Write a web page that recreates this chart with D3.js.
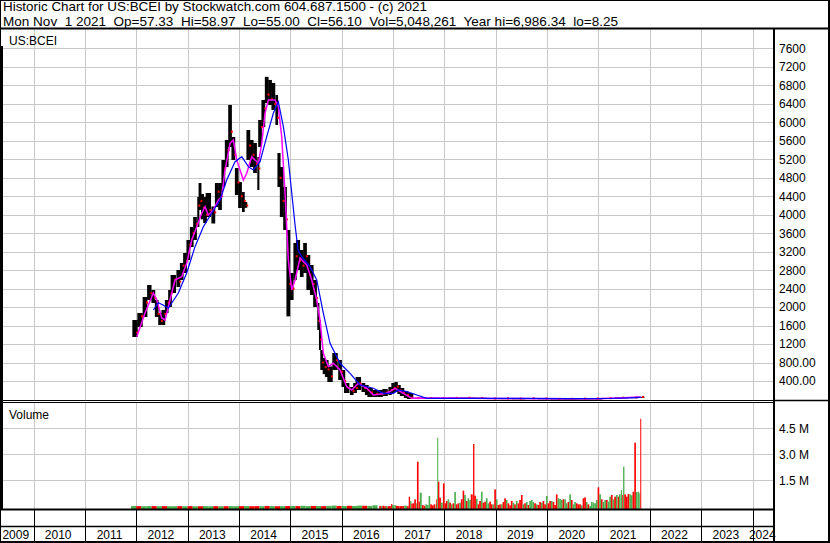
<!DOCTYPE html>
<html>
<head>
<meta charset="utf-8">
<script src="https://cdn.jsdelivr.net/npm/d3@7"></script>
<style>
  body { margin: 0; background: #fff; }
  svg { display: block; font-family: "Liberation Sans", Arial, sans-serif; }
</style>
</head>
<body>
<div id="chart"></div>
<script>
// ---- data ----
// price bars: decimal year, high, low, close
var priceYears = [2011.977, 2012.074, 2012.171, 2012.255, 2012.333, 2012.399, 2012.464, 2012.528, 2012.594, 2012.658,
  2012.722, 2012.820, 2012.886, 2012.950, 2013.015, 2013.081, 2013.145, 2013.209, 2013.242, 2013.290, 2013.340, 2013.404,
  2013.501, 2013.568, 2013.632, 2013.696, 2013.762, 2013.827, 2013.891, 2013.957, 2014.021, 2014.086, 2014.132,
  2014.183, 2014.249, 2014.313, 2014.378, 2014.411, 2014.475, 2014.541, 2014.606, 2014.670, 2014.736, 2014.780,
  2014.833, 2014.898, 2014.962, 2015.028, 2015.093, 2015.150, 2015.223, 2015.287, 2015.351, 2015.418, 2015.482,
  2015.546, 2015.579, 2015.612, 2015.660, 2015.710, 2015.774, 2015.871, 2015.969, 2016.033, 2016.099, 2016.197, 2016.261,
  2016.325, 2016.423, 2016.489, 2016.553, 2016.650, 2016.748, 2016.845, 2016.943, 2017.001, 2017.060, 2017.118,
  2017.176, 2017.254, 2017.332,
  2017.45, 2017.70, 2017.95, 2018.20, 2018.45, 2018.70, 2018.95, 2019.20, 2019.45, 2019.70, 2019.95,
  2020.20, 2020.45, 2020.70, 2020.95, 2021.20, 2021.45, 2021.70, 2021.83];
var priceHigh = [1721, 1873, 2219, 2479, 2371, 2154, 1873, 1938, 2154, 2371,
  2696, 2804, 2956, 3172, 3454, 3735, 3951, 4384, 4687, 4450, 4384, 4471,
  4179, 4687, 4687, 5186, 5619, 6377, 5684, 5012, 4709, 4492, 4276,
  5835, 5619, 5554, 5251, 6052, 6485, 6986, 6918, 6853, 6593, 5337,
  5034, 4601, 3670, 2739, 3389, 3454, 3237, 3389, 3129, 2912, 2587,
  2090, 1721, 1072, 900, 855, 715, 1007, 855, 639, 357, 271, 357,
  487, 357, 314, 249, 206, 206, 227, 271, 357, 379, 314,
  249, 184, 141,
  40, 38, 36, 40, 42, 38, 30, 28, 25, 30, 26,
  22, 20, 22, 22, 35, 45, 50, 59];
var priceLow = [1353, 1570, 1786, 2154, 2090, 1786, 1613, 1613, 1873, 2003,
  2306, 2436, 2587, 2739, 3020, 3302, 3454, 3735, 4103, 3900, 3822, 3951,
  3811, 4168, 4103, 4601, 5034, 5467, 5186, 4427, 4146, 4060, 4150,
  5186, 5034, 4904, 4536, 5467, 5900, 6420, 6377, 6269, 5944, 4601,
  3951, 3670, 1800, 2154, 2587, 2804, 2652, 2739, 2371, 2263, 2003,
  1505, 1072, 639, 550, 487, 379, 639, 422, 271, 141, 97, 141,
  206, 162, 97, 54, 54, 54, 76, 97, 141, 162, 119,
  76, 32, 11,
  25, 26, 28, 30, 33, 30, 18, 20, 18, 20, 20,
  10, 12, 15, 17, 22, 30, 38, 55];
var priceClose = [1450, 1800, 2100, 2300, 2200, 1850, 1700, 1850, 2100, 2300,
  2600, 2550, 2900, 3000, 3350, 3600, 3800, 4200, 4300, 4150, 4000, 4100,
  4050, 4500, 4400, 5000, 5400, 5800, 5300, 4700, 4400, 4300, 4200,
  5500, 5300, 5100, 5000, 5900, 6300, 6600, 6500, 6400, 6100, 4800,
  4300, 3900, 2500, 2400, 3100, 3000, 2900, 3100, 2700, 2500, 2200,
  1700, 1300, 800, 700, 650, 500, 850, 600, 400, 250, 180, 250,
  350, 250, 200, 150, 120, 130, 150, 200, 250, 280, 200,
  150, 100, 40,
  30, 32, 30, 35, 38, 33, 22, 24, 20, 26, 22,
  14, 16, 18, 20, 30, 40, 46, 56];

// short moving average (magenta)
var maShortYears = [2012.010, 2012.171, 2012.333, 2012.399, 2012.497, 2012.561, 2012.658, 2012.756, 2012.886, 2012.983,
  2013.081, 2013.178, 2013.276, 2013.340, 2013.404, 2013.501, 2013.599, 2013.665, 2013.729, 2013.827,
  2013.891, 2013.957, 2014.021, 2014.086, 2014.152, 2014.249, 2014.313, 2014.378, 2014.444, 2014.508,
  2014.573, 2014.703, 2014.767, 2014.833, 2014.898, 2014.962, 2015.028, 2015.093, 2015.190, 2015.320,
  2015.418, 2015.515, 2015.579, 2015.644, 2015.741, 2015.838, 2015.969, 2016.099, 2016.197, 2016.325,
  2016.489, 2016.617, 2016.878, 2017.040, 2017.202, 2017.365, 2018.0, 2019.0, 2020.3, 2020.9,
  2021.3, 2021.6, 2021.82];
var maShort = [1360, 1873, 2306, 2154, 1765, 1721, 2154, 2588, 2659, 2949,
  3454, 3742, 4032, 4175, 3995, 4103, 4320, 4391, 4969, 5547,
  5619, 5186, 4969, 4753, 4898, 5257, 5186, 5114, 5547, 6197,
  6485, 6485, 6340, 5690, 4465, 3021, 2371, 2588, 3064, 2912,
  2588, 2154, 1721, 1000, 710, 784, 639, 277, 206, 351,
  243, 97, 134, 243, 134, 26, 32, 22, 14, 18,
  28, 42, 54];

// long moving average (blue)
var maLongYears = [2012.333, 2012.430, 2012.522, 2012.625, 2012.820, 2012.983, 2013.145, 2013.307, 2013.470, 2013.632,
  2013.762, 2013.924, 2014.055, 2014.183, 2014.280, 2014.411, 2014.541, 2014.670, 2014.767, 2014.865,
  2014.962, 2015.028, 2015.093, 2015.151, 2015.223, 2015.307, 2015.385, 2015.515, 2015.644, 2015.774,
  2015.969, 2016.164, 2016.358, 2016.617, 2016.812, 2017.007, 2017.104, 2017.268, 2017.463, 2017.657,
  2018.5, 2019.5, 2020.5, 2021.2, 2021.6, 2021.82];
var maLong = [1938, 2096, 2046, 1975, 2306, 2739, 3309, 3742, 4038, 4320,
  4753, 5149, 5257, 5041, 4969, 5149, 5690, 6197, 6448, 5907,
  5186, 4471, 3778, 3237, 3092, 2977, 2876, 2588, 1866, 1217,
  784, 567, 314, 243, 134, 134, 206, 169, 97, 26,
  26, 25, 18, 22, 35, 45];

// volume (thousands of shares), 1 = up day (green), 0 = down day (red)
var volYears = [2011.95, 2012.05, 2012.15, 2012.25, 2012.35, 2012.45, 2012.55, 2012.65, 2012.75, 2012.85,
  2012.95, 2013.05, 2013.15, 2013.25, 2013.35, 2013.45, 2013.55, 2013.65, 2013.75, 2013.85,
  2013.95, 2014.05, 2014.15, 2014.25, 2014.35, 2014.45, 2014.55, 2014.65, 2014.75, 2014.85,
  2014.95, 2015.05, 2015.15, 2015.25, 2015.35, 2015.45, 2015.55, 2015.65, 2015.75, 2015.85,
  2015.95, 2016.05, 2016.15, 2016.25, 2016.35, 2016.45, 2016.55, 2016.65,
  2016.748, 2016.78, 2016.81, 2016.845, 2016.877, 2016.91, 2016.94, 2016.975, 2017.0, 2017.04,
  2017.07, 2017.1, 2017.14, 2017.17, 2017.2, 2017.23, 2017.254, 2017.29, 2017.319, 2017.345, 2017.37,
  2017.397, 2017.430, 2017.462, 2017.482, 2017.514, 2017.540, 2017.579, 2017.611, 2017.644, 2017.676,
  2017.709, 2017.741, 2017.774, 2017.806, 2017.839, 2017.852, 2017.871, 2017.890, 2017.916, 2017.949,
  2017.988, 2018.020, 2018.046, 2018.079, 2018.111, 2018.144, 2018.176, 2018.209, 2018.241, 2018.273,
  2018.306, 2018.338, 2018.371, 2018.403, 2018.436, 2018.468, 2018.501, 2018.533, 2018.572, 2018.598,
  2018.631, 2018.663, 2018.695, 2018.728, 2018.760, 2018.793, 2018.825, 2018.858, 2018.890, 2018.923,
  2018.955, 2018.988, 2019.020, 2019.052, 2019.085, 2019.117, 2019.150, 2019.182, 2019.215, 2019.247,
  2019.280, 2019.312, 2019.345, 2019.377, 2019.409, 2019.442, 2019.474, 2019.507, 2019.539, 2019.572,
  2019.604, 2019.637, 2019.669, 2019.702, 2019.734, 2019.766, 2019.799, 2019.831, 2019.864, 2019.896,
  2019.929, 2019.961, 2019.994, 2020.026, 2020.059, 2020.091, 2020.124, 2020.156, 2020.188, 2020.221,
  2020.253, 2020.286, 2020.318, 2020.351, 2020.383, 2020.416, 2020.448, 2020.481, 2020.513, 2020.545,
  2020.578, 2020.610, 2020.643, 2020.675, 2020.708, 2020.740, 2020.773, 2020.805, 2020.838, 2020.870,
  2020.902, 2020.935, 2020.967, 2021.000, 2021.032, 2021.065, 2021.097, 2021.130, 2021.162, 2021.195,
  2021.227, 2021.260, 2021.292, 2021.324, 2021.357, 2021.389, 2021.415, 2021.448, 2021.474, 2021.493,
  2021.519, 2021.552, 2021.584, 2021.617, 2021.649, 2021.681, 2021.714, 2021.746, 2021.779, 2021.805,
  2021.824];
var volValues = [20, 10, 5, 15, 10, 5, 10, 5, 5, 10,
  5, 10, 5, 5, 10, 5, 10, 5, 5, 10,
  5, 10, 15, 5, 10, 5, 20, 10, 5, 10,
  15, 20, 10, 30, 10, 20, 15, 10, 25, 40,
  20, 15, 30, 20, 40, 30, 20, 60,
  20, 10, 30, 10, 20, 5, 15, 133, 60, 70,
  30, 20, 10, 20, 15, 40, 30, 20, 554, 306, 150,
  171, 402, 171, 2575, 267, 787, 75, 30, 113, 75,
  594, 113, 56, 113, 113, 402, 3960, 1421, 498, 209,
  1325, 171, 306, 402, 209, 113, 171, 825, 113, 171,
  209, 402, 902, 652, 306, 460, 363, 690, 3594, 613,
  440, 113, 306, 844, 209, 267, 460, 171, 267, 113,
  113, 979, 402, 75, 113, 113, 248, 460, 363, 171,
  56, 306, 209, 113, 306, 171, 363, 652, 113, 171,
  248, 75, 306, 363, 248, 171, 113, 75, 248, 209,
  306, 113, 594, 171, 306, 306, 248, 75, 690, 460,
  421, 363, 402, 402, 171, 248, 690, 363, 113, 248,
  171, 113, 113, 56, 460, 517, 248, 113, 17, 248,
  209, 171, 363, 1094, 690, 402, 248, 363, 363, 267,
  556, 652, 402, 556, 652, 556, 690, 940, 652, 2287,
  690, 556, 710, 690, 633, 844, 3671, 825, 844, 748,
  5048];
var volUp = [1, 0, 1, 1, 0, 1, 0, 1, 1, 0,
  1, 0, 1, 0, 1, 1, 0, 1, 0, 1,
  1, 0, 1, 0, 0, 1, 0, 1, 0, 1,
  0, 1, 0, 1, 1, 0, 1, 0, 1, 1,
  0, 1, 0, 1, 1, 0, 1, 1,
  0, 1, 0, 0, 1, 0, 0, 0, 1, 1,
  0, 0, 0, 0, 0, 1, 1, 0, 0, 1, 0,
  0, 0, 1, 0, 0, 1, 0, 0, 1, 1,
  1, 0, 0, 0, 1, 0, 1, 0, 0, 1,
  0, 0, 0, 1, 0, 1, 0, 1, 0, 0,
  1, 0, 0, 1, 0, 1, 1, 0, 0, 0,
  1, 0, 0, 1, 0, 0, 1, 1, 0, 0,
  1, 0, 1, 0, 0, 1, 0, 0, 1, 0,
  0, 0, 1, 0, 1, 0, 0, 0, 1, 0,
  1, 0, 1, 1, 1, 0, 1, 0, 0, 1,
  0, 0, 1, 0, 0, 1, 0, 0, 0, 1,
  1, 1, 0, 1, 1, 0, 1, 0, 1, 1,
  0, 0, 0, 1, 0, 0, 1, 0, 1, 1,
  1, 1, 1, 0, 1, 0, 1, 1, 0, 1,
  1, 0, 1, 0, 1, 0, 1, 1, 0, 1,
  0, 0, 0, 1, 1, 0, 0, 1, 1, 1,
  0];

var priceTicks = [400, 800, 1200, 1600, 2000, 2400, 2800, 3200, 3600, 4000,
  4400, 4800, 5200, 5600, 6000, 6400, 6800, 7200, 7600];
var volTicks = [1500, 3000, 4500];
var yearLabels = [2009, 2010, 2011, 2012, 2013, 2014, 2015, 2016, 2017, 2018, 2019, 2020, 2021, 2022, 2023, 2024];

var headerLine1 = "Historic Chart for US:BCEI by Stockwatch.com 604.687.1500 - (c) 2021";
var headerLine2 = "Mon Nov  1 2021  Op=57.33  Hi=58.97  Lo=55.00  Cl=56.10  Vol=5,048,261  Year hi=6,986.34  lo=8.25";

// ---- layout ----
var W = 830, H = 543;
var plotR = 774;
var priceTop = 29, priceBot = 400.5;
var volTop = 402.5, volBot = 509.5;
var rowMid = 526.5;

var svg = d3.select("#chart").append("svg")
  .attr("width", W).attr("height", H);

svg.append("rect").attr("width", W).attr("height", H).attr("fill", "#fff");

var x = d3.scaleLinear().domain([2009, 2024]).range([-17.85, 752.5]);
var yP = d3.scaleLinear().domain([0, 8000]).range([399.5, 30]);
var yV = d3.scaleLinear().domain([0, 6000]).range([506.3, 402.3]);

var defs = svg.append("defs");
defs.append("clipPath").attr("id", "clipP").append("rect")
  .attr("x", 0).attr("y", priceTop).attr("width", plotR).attr("height", priceBot - priceTop);
defs.append("clipPath").attr("id", "clipV").append("rect")
  .attr("x", 0).attr("y", volTop).attr("width", plotR).attr("height", volBot - volTop);

var gridColor = "#c8c8c8";
var gridYears = yearLabels.slice(1);

// grid - price panel
var gp = svg.append("g").attr("clip-path", "url(#clipP)");
gp.selectAll("line.v").data(gridYears).enter().append("line")
  .attr("x1", function(d) { return Math.round(x(d)) + 0.5; })
  .attr("x2", function(d) { return Math.round(x(d)) + 0.5; })
  .attr("y1", priceTop).attr("y2", priceBot)
  .attr("stroke", gridColor);
gp.selectAll("line.h").data(priceTicks).enter().append("line")
  .attr("x1", 0).attr("x2", plotR)
  .attr("y1", function(d) { return Math.round(yP(d)) + 0.5; })
  .attr("y2", function(d) { return Math.round(yP(d)) + 0.5; })
  .attr("stroke", gridColor);

// grid - volume panel
var gv = svg.append("g").attr("clip-path", "url(#clipV)");
gv.selectAll("line.v").data(gridYears).enter().append("line")
  .attr("x1", function(d) { return Math.round(x(d)) + 0.5; })
  .attr("x2", function(d) { return Math.round(x(d)) + 0.5; })
  .attr("y1", volTop).attr("y2", volBot)
  .attr("stroke", gridColor);
gv.selectAll("line.h").data(volTicks).enter().append("line")
  .attr("x1", 0).attr("x2", plotR)
  .attr("y1", function(d) { return Math.round(yV(d)) + 0.5; })
  .attr("y2", function(d) { return Math.round(yV(d)) + 0.5; })
  .attr("stroke", gridColor);

// price bars
function gapAt(years, i) {
  return i < years.length - 1 ? x(years[i + 1]) - x(years[i]) : x(years[i]) - x(years[i - 1]);
}
var bars = priceYears.map(function(d, i) {
  return { yr: d, hi: priceHigh[i], lo: priceLow[i], cl: priceClose[i], w: Math.max(1.5, gapAt(priceYears, i) + 0.4) };
});
gp.selectAll("rect.bar").data(bars).enter().append("rect")
  .attr("x", function(d) { return x(d.yr) - d.w / 2; })
  .attr("y", function(d) { return yP(d.hi); })
  .attr("width", function(d) { return d.w; })
  .attr("height", function(d) { return Math.max(1, yP(d.lo) - yP(d.hi)); })
  .attr("fill", "#000");
gp.selectAll("rect.cl").data(bars).enter().append("rect")
  .attr("x", function(d) { return x(d.yr) + Math.min(d.w, 4) / 2 - 1; })
  .attr("y", function(d) { return yP(d.cl) - 1; })
  .attr("width", 2).attr("height", 2)
  .attr("fill", "#ff0000");

// moving averages
var line = d3.line()
  .x(function(d) { return x(d[0]); })
  .y(function(d) { return yP(d[1]); });
gp.append("path")
  .datum(maShortYears.map(function(d, i) { return [d, maShort[i]]; }))
  .attr("d", line).attr("fill", "none").attr("stroke", "#ff00ff").attr("stroke-width", 1.5);
gp.append("path")
  .datum(maLongYears.map(function(d, i) { return [d, maLong[i]]; }))
  .attr("d", line).attr("fill", "none").attr("stroke", "#0000ff").attr("stroke-width", 1.2);

// volume bars
var vols = volYears.map(function(d, i) {
  return { yr: d, v: volValues[i], up: volUp[i], w: Math.max(1, Math.min(6, gapAt(volYears, i))) };
});
gv.selectAll("rect.vol").data(vols).enter().append("rect")
  .attr("x", function(d) { return x(d.yr) - d.w / 2; })
  .attr("y", function(d) { return yV(d.v); })
  .attr("width", function(d) { return d.w; })
  .attr("height", function(d) { return volBot - yV(d.v); })
  .attr("fill", function(d) { return d.up ? "#4caf50" : "#ff0000"; });

// axes on the right
var fmtPrice = function(d) { return d >= 1000 ? d3.format("d")(d) : d3.format(".2f")(d); };
var axP = svg.append("g").attr("transform", "translate(775,0)")
  .call(d3.axisRight(yP).tickValues(priceTicks).tickFormat(fmtPrice).tickSize(0).tickPadding(4));
var axV = svg.append("g").attr("transform", "translate(775,0)")
  .call(d3.axisRight(yV).tickValues(volTicks).tickFormat(function(d) { return (d / 1000).toFixed(1) + " M"; })
    .tickSize(0).tickPadding(4));
[axP, axV].forEach(function(g) {
  g.select(".domain").remove();
  g.selectAll("text").attr("font-size", 12).attr("fill", "#000")
    .attr("font-family", "'Liberation Sans', Arial, sans-serif");
});

// year axis rows
var axisRows = svg.append("g");
gridYears.forEach(function(yr) {
  var xx = Math.round(x(yr)) + 0.5;
  if (xx > plotR) return;
  axisRows.append("line").attr("x1", xx).attr("x2", xx)
    .attr("y1", volBot).attr("y2", H).attr("stroke", "#000");
});
axisRows.selectAll("text").data(yearLabels).enter().append("text")
  .attr("x", function(d) {
    var a = Math.max(0, x(d)), b = Math.min(plotR, x(d + 1));
    return (a + b) / 2 - 1;
  })
  .attr("y", 538.5)
  .attr("text-anchor", "middle")
  .attr("font-size", 12)
  .text(function(d) { return d; });

// panel labels
svg.append("text").attr("x", 9).attr("y", 45).attr("font-size", 12).text("US:BCEI");
svg.append("text").attr("x", 9).attr("y", 419).attr("font-size", 12).text("Volume");

// header
svg.append("text").attr("x", 3).attr("y", 11).attr("font-size", 13)
  .attr("textLength", 424).attr("lengthAdjust", "spacingAndGlyphs")
  .style("white-space", "pre").text(headerLine1);
svg.append("text").attr("x", 3).attr("y", 25.5).attr("font-size", 13)
  .attr("textLength", 615).attr("lengthAdjust", "spacingAndGlyphs")
  .style("white-space", "pre").text(headerLine2);

// frame lines
function hline(x1, x2, y, w) {
  svg.append("line").attr("x1", x1).attr("x2", x2).attr("y1", y).attr("y2", y)
    .attr("stroke", "#000").attr("stroke-width", w);
}
function vline(xx, y1, y2, w) {
  svg.append("line").attr("x1", xx).attr("x2", xx).attr("y1", y1).attr("y2", y2)
    .attr("stroke", "#000").attr("stroke-width", w);
}
hline(0, W, 28.5, 2);
hline(0, plotR, 400.5, 1);
hline(0, plotR, 402.5, 1);
hline(plotR, W, 400.5, 1.5);
hline(0, plotR, 509.5, 2);
hline(0, plotR, rowMid, 1.5);
hline(0, W, H - 1, 2);
vline(0.5, 0, H, 1);
vline(1.5, 46, 509, 3);
vline(774, 28, H, 2);
vline(829, 0, H, 2);
hline(0, W, 0.5, 1);
</script>
</body>
</html>
